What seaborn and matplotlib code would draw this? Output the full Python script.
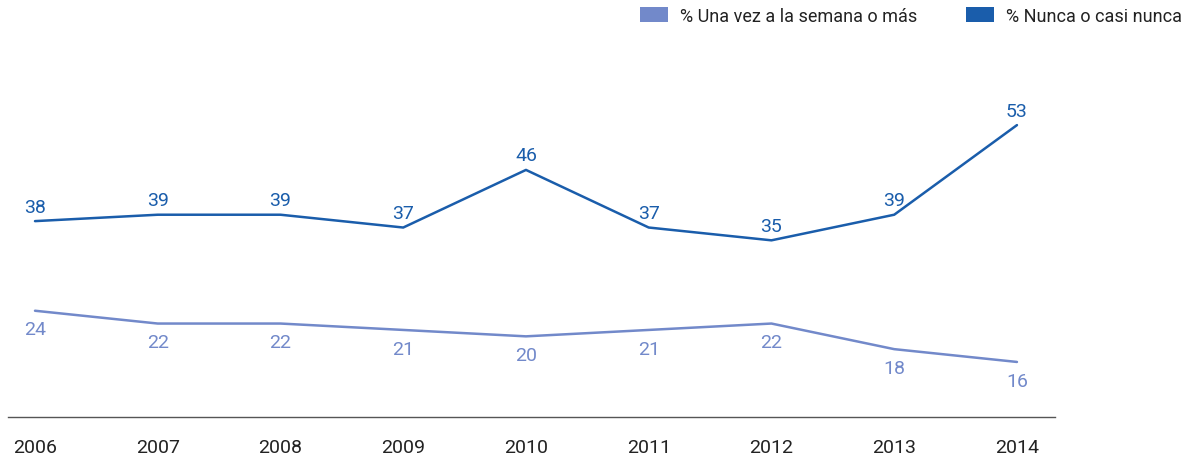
import matplotlib
matplotlib.use("Agg")
import matplotlib.pyplot as plt
from matplotlib.patches import Patch
import seaborn as sns
import pandas as pd

years = [2006, 2007, 2008, 2009, 2010, 2011, 2012, 2013, 2014]
semanal = [24, 22, 22, 21, 20, 21, 22, 18, 16]
nunca = [38, 39, 39, 37, 46, 37, 35, 39, 53]
series_names = ["% Una vez a la semana o más", "% Nunca o casi nunca"]
colors = ["#7289ca", "#1a5dab"]

sns.set_theme(style="white")
plt.rcParams["font.family"] = ["Roboto", "DejaVu Sans"]

df = pd.DataFrame({
    "year": years * 2,
    "value": semanal + nunca,
    "serie": [series_names[0]] * len(years) + [series_names[1]] * len(years),
})

fig = plt.figure(figsize=(12.04, 4.64), dpi=100)
ax = fig.add_axes([8 / 1204, 46 / 464, 1047 / 1204, 418 / 464])

sns.lineplot(data=df, x="year", y="value", hue="serie", palette=colors,
             linewidth=1.8, ax=ax, legend=False)

ax.set_xlim(2005.78, 2014.31)
ax.set_ylim(7.4, 72.7)

# value labels: lower series below the line, upper series above
for x, v in zip(years, semanal):
    ax.annotate(f"{v}", (x, v), xytext=(0, -7), textcoords="offset points",
                ha="center", va="top", fontsize=14, color=colors[0])
for x, v in zip(years, nunca):
    ax.annotate(f"{v}", (x, v), xytext=(0, 4), textcoords="offset points",
                ha="center", va="bottom", fontsize=14, color=colors[1])

ax.set_xticks(years)
ax.set_xticklabels([str(y) for y in years], fontsize=14, color="#222222")
ax.set_yticks([])
ax.set_xlabel("")
ax.set_ylabel("")
for s in ["top", "right", "left"]:
    ax.spines[s].set_visible(False)
ax.spines["bottom"].set_color("#555555")
ax.spines["bottom"].set_linewidth(1.0)
ax.tick_params(axis="x", length=0, pad=15)

handles = [Patch(facecolor=c, edgecolor="none") for c in colors]
fig.legend(handles, series_names, loc="upper right", bbox_to_anchor=(0.995, 1.018),
           ncol=2, frameon=False, fontsize=13, handlelength=1.55, handleheight=0.95,
           handletextpad=0.65, columnspacing=2.7, labelcolor="#222222")

fig.savefig("out.png", dpi=100, facecolor="white")
